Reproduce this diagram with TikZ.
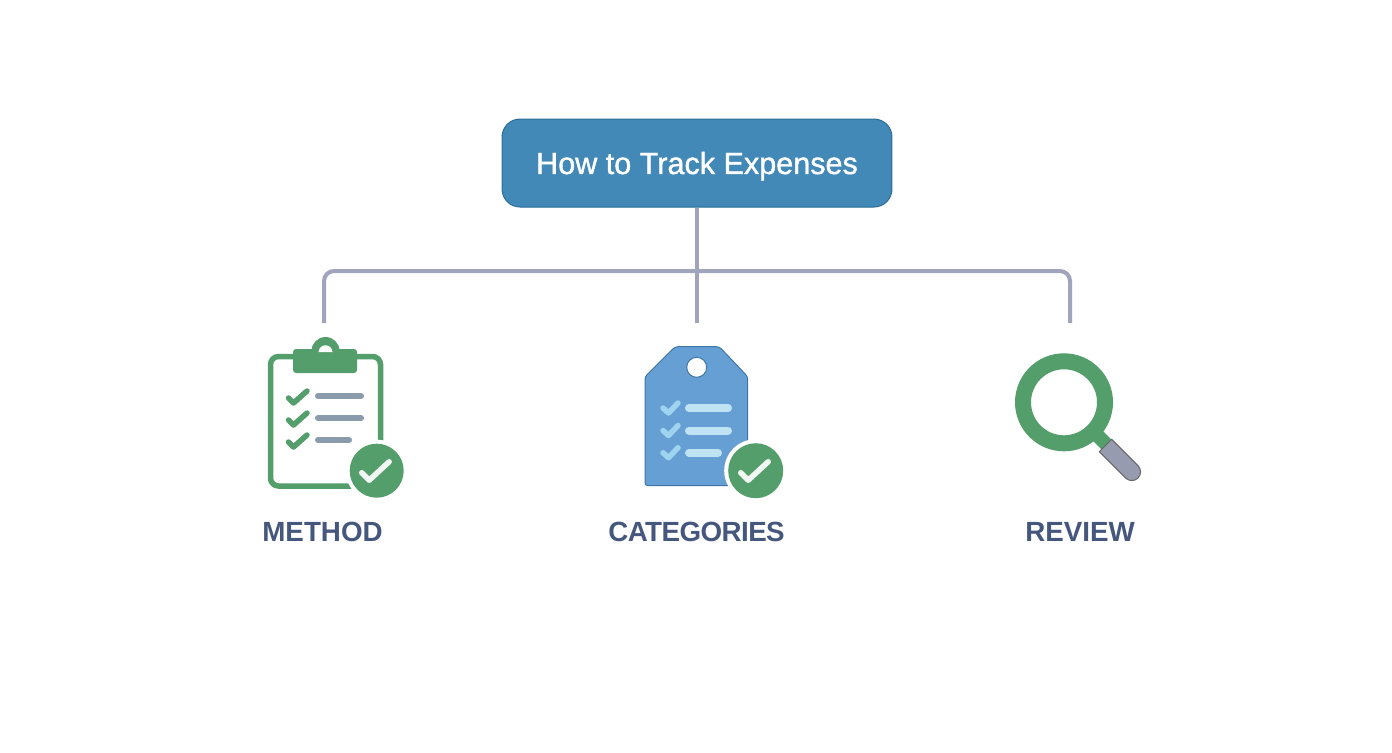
\documentclass[tikz,border=0pt]{standalone}
\usepackage{fontspec}
\setmainfont{Liberation Sans}
\newfontfamily\titlefont[FakeBold=1.2]{Liberation Sans}
\definecolor{titleblue}{RGB}{66,137,184}
\definecolor{titleedge}{RGB}{44,108,152}
\definecolor{wiregray}{RGB}{160,164,188}
\definecolor{iconGreen}{RGB}{84,158,107}
\definecolor{rowgray}{RGB}{138,155,172}
\definecolor{tagblue}{RGB}{101,159,211}
\definecolor{tagedge}{RGB}{62,118,168}
\definecolor{rowblue}{RGB}{191,227,242}
\definecolor{tickblue}{RGB}{159,212,238}
\definecolor{handlegray}{RGB}{150,155,175}
\definecolor{labelblue}{RGB}{70,87,126}
\tikzset{
  titlebox/.style={draw=titleedge,line width=0.02cm,fill=titleblue,rounded corners=0.36cm,minimum width=7.8cm,minimum height=1.76cm,text=white,text height=12.5pt,text depth=0pt,font=\titlefont\fontsize{17.4}{20}\selectfont},
  wire/.style={draw=wiregray,line width=0.08cm},
  steplabel/.style={text=labelblue,font=\fontsize{15.8}{18}\selectfont\bfseries,inner sep=0pt},
  tick/.style={line width=0.11cm,line cap=round,line join=round},
  rowbar/.style={line width=0.12cm,line cap=round}
}
% round green mark with a white rim, centre #1 and radius #2
\newcommand{\okbadge}[3]{
  \fill[white] (#1,#2) circle (#3+4);
  \fill[iconGreen] (#1,#2) circle (#3);
  \draw[white!92!iconGreen,line width=0.11cm,line cap=round,line join=round] (#1-15,#2+2) -- (#1-7.5,#2+9.5) -- (#1+12.5,#2-9);
}
\begin{document}
\begin{tikzpicture}[x=0.02cm,y=-0.02cm]
\useasboundingbox (0,0) rectangle (1392,752);
\fill[white] (0,0) rectangle (1392,752);

\node[titlebox] (title) at (697,163) {How to Track Expenses};
\coordinate (dropa) at (324,323);
\coordinate (dropb) at (697,323);
\coordinate (dropc) at (1070,323);
\coordinate (busa) at (324,271);
\coordinate (busc) at (1070,271);
\draw[wire] (title.south) -- (dropb);
\draw[wire,rounded corners=0.2cm] (dropa) -- (busa) -- (busc) -- (dropc);

% clipboard
\draw[iconGreen,line width=0.11cm,fill=white,rounded corners=0.16cm] (270.5,356.5) rectangle (380.5,486);
\fill[iconGreen] (325.5,351) circle (14);
\fill[iconGreen,rounded corners=0.06cm] (293,349) rectangle (357,373);
\fill[white] (318.5,352) .. controls (319.5,343) and (331.5,343) .. (332.5,352) -- cycle;
\foreach \rowy/\rowend in {396/361,418/361,440/349}{
  \draw[tick,iconGreen] (288.5,\rowy+2) -- (293.5,\rowy+7) -- (307,\rowy-5);
  \draw[rowbar,rowgray] (318,\rowy) -- (\rowend,\rowy);
}
\okbadge{376.7}{470.7}{27}
\node[steplabel] (method) at (322.5,532) {METHOD};

% tag
\draw[tagedge,line width=0.02cm,fill=tagblue,rounded corners=0.06cm] (675,346.7) -- (719.3,346.7) -- (747.7,376.7) -- (747.7,485.7) -- (645,485.7) -- (645,376.7) -- cycle;
\draw[tagedge,line width=0.02cm,fill=white] (696.7,367.3) circle (10);
\foreach \rowy/\rowend in {408/728,430.5/728,452.7/718}{
  \draw[tick,tickblue] (663,\rowy) -- (668.5,\rowy+5) -- (678,\rowy-5);
  \draw[rowbar,rowblue,line width=0.16cm] (689,\rowy) -- (\rowend,\rowy);
}
\okbadge{755.7}{470.7}{27.5}
\node[steplabel] (categories) at (696.5,532) {\addfontfeature{LetterSpace=-2}CATEGORIES};

% magnifier
\draw[iconGreen,line width=0.32cm] (1064,402.3) circle (41);
\draw[iconGreen,line width=0.28cm] (1094,432) -- (1109,447);
\begin{scope}[shift={(1105.5,445.5)},rotate=-45]
\draw[draw=gray!80!black,line width=0.02cm,fill=handlegray,rounded corners=5pt] (0,-8.75) [sharp corners] -- (0,8.75) [rounded corners=5pt] -- (46,8.75) -- (46,-8.75) [sharp corners] -- cycle;
\end{scope}
\node[steplabel] (review) at (1080,532) {REVIEW};
\end{tikzpicture}
\end{document}
